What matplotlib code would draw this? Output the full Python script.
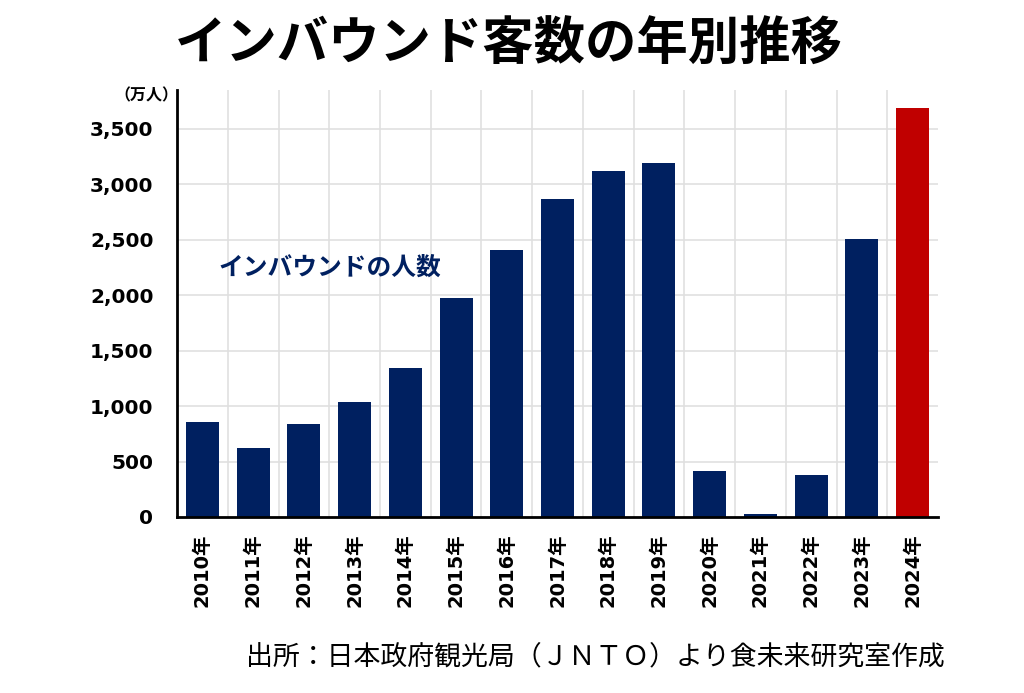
import matplotlib
matplotlib.use("Agg")
from matplotlib import pyplot as plt
from matplotlib.ticker import FuncFormatter, MultipleLocator

# データ（万人）
years = ["2010年", "2011年", "2012年", "2013年", "2014年", "2015年", "2016年", "2017年",
         "2018年", "2019年", "2020年", "2021年", "2022年", "2023年", "2024年"]
visitors = [861, 622, 836, 1036, 1341, 1974, 2404, 2869, 3119, 3188, 412, 25, 383, 2507, 3687]

navy = "#002060"
red = "#C00000"
colors = [navy] * (len(years) - 1) + [red]

plt.rcParams['font.family'] = ['DejaVu Sans', 'Noto Sans CJK JP']

fig = plt.figure(figsize=(10.24, 6.93), dpi=100)
ax = fig.add_axes([0.1729, 0.254, 0.7431, 0.616])

x = list(range(len(years)))
ax.bar(x, visitors, width=0.65, color=colors, zorder=3)

ax.set_xlim(-0.5, len(years) - 0.5)
ax.set_ylim(0, 3850)

# 目盛り
ax.yaxis.set_major_locator(MultipleLocator(500))
ax.yaxis.set_major_formatter(FuncFormatter(lambda v, p: "{:,.0f}".format(v) if v <= 3500 else ""))
ax.set_xticks(x)
ax.set_xticklabels(years, rotation=90, fontsize=14, fontweight='bold')
ax.set_xticks([i + 0.5 for i in x[:-1]], minor=True)
for t in ax.get_yticklabels():
    t.set_fontsize(14.5)
    t.set_fontweight('bold')
ax.tick_params(axis='both', which='both', length=0)
ax.tick_params(axis='y', pad=17)
ax.tick_params(axis='x', pad=12)

# グリッド
ax.grid(axis='x', which='minor', color='#e0e0e0', linewidth=1.2, zorder=0)
ax.set_axisbelow(True)
for v in range(500, 4000, 500):
    ax.axhline(v, color='#e0e0e0', linewidth=1.2, zorder=1)

for s in ['top', 'right']:
    ax.spines[s].set_visible(False)
for s in ['left', 'bottom']:
    ax.spines[s].set_linewidth(2)
    ax.spines[s].set_color('black')
    ax.spines[s].set_zorder(4)

# 文字
fig.text(0.497, 0.936, "インバウンド客数の年別推移", ha='center', va='center',
         fontsize=37, fontweight='bold', family=['Noto Sans CJK JP'])
fig.text(0.143, 0.862, "（万人）", ha='center', va='center', fontsize=11.5,
         fontweight='bold', family=['Noto Sans CJK JP'])
ax.text(0.32, 2250, "インバウンドの人数", ha='left', va='center', fontsize=17.8,
        fontweight='bold', color=navy, family=['Noto Sans CJK JP'], zorder=5)
fig.text(0.923, 0.052, "出所：日本政府観光局（ＪＮＴＯ）より食未来研究室作成",
         ha='right', va='center', fontsize=19.4, family=['Noto Sans CJK JP'])

fig.savefig("out.png", dpi=100)
